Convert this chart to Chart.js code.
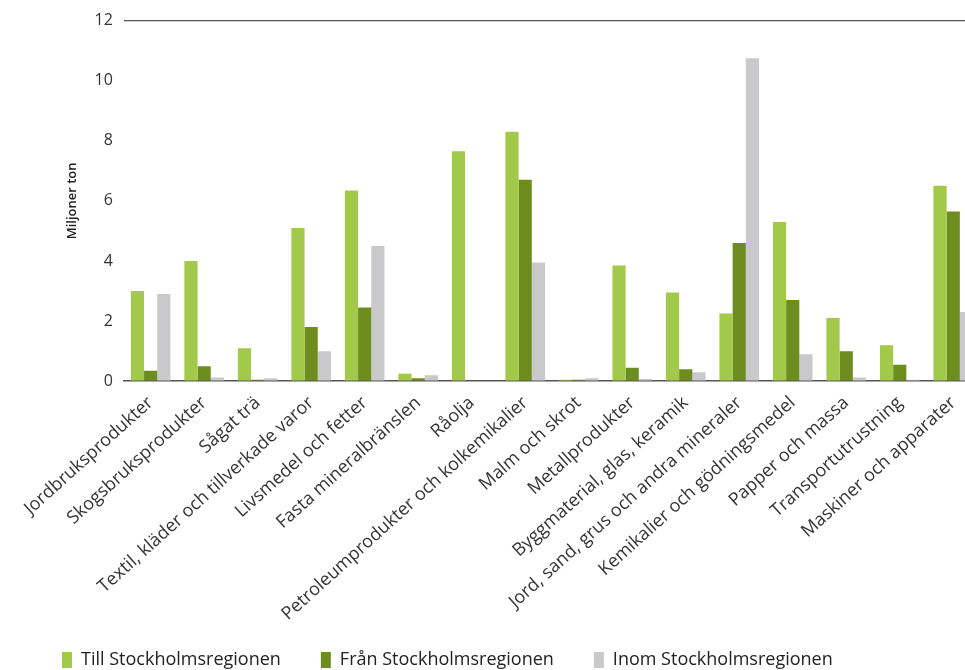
<!DOCTYPE html>
<html>
<head>
<meta charset="utf-8">
<script src="https://cdn.jsdelivr.net/npm/chart.js@4"></script>
<style>
    html, body { margin: 0; padding: 0; background: #fff; overflow: hidden; }
    #wrap { width: 980px; height: 670px; }
</style>
</head>
<body>
<div id="wrap"><canvas id="chart"></canvas></div>
<script>
const categories = [
    "Jordbruksprodukter", "Skogsbruksprodukter", "Sågat trä",
    "Textil, kläder och tillverkade varor", "Livsmedel och fetter",
    "Fasta mineralbränslen", "Råolja", "Petroleumprodukter och kolkemikalier",
    "Malm och skrot", "Metallprodukter", "Byggmaterial, glas, keramik",
    "Jord, sand, grus och andra mineraler", "Kemikalier och gödningsmedel",
    "Papper och massa", "Transportutrustning", "Maskiner och apparater"
];
const tillValues = [3.0, 4.0, 1.1, 5.1, 6.35, 0.25, 7.65, 8.3, 0.05, 3.85, 2.95, 2.25, 5.3, 2.1, 1.2, 6.5];
const franValues = [0.35, 0.5, 0.05, 1.8, 2.45, 0.1, 0, 6.7, 0.05, 0.45, 0.4, 4.6, 2.7, 1.0, 0.55, 5.65];
const inomValues = [2.9, 0.12, 0.1, 1.0, 4.5, 0.2, 0, 3.95, 0.1, 0.07, 0.3, 10.75, 0.9, 0.12, 0.05, 2.3];
const yTicks = [0, 2, 4, 6, 8, 10, 12];

const fontFamily = "'Open Sans', 'Noto Sans', sans-serif";

// move legend so it sits where the original does
const legendShift = {
    id: "legendShift",
    afterLayout(chart) {
        const lg = chart.legend;
        lg.left -= 38;
        lg.right -= 38;
        const dy = 611 - lg.top;
        lg.top += dy;
        lg.bottom += dy;
    }
};

const ctx = document.getElementById("chart").getContext("2d");
new Chart(ctx, {
    type: "bar",
    data: {
        labels: categories,
        datasets: [
            { label: "Till Stockholmsregionen", data: tillValues, backgroundColor: "#a2c94a" },
            { label: "Från Stockholmsregionen", data: franValues, backgroundColor: "#6d8e1f" },
            { label: "Inom Stockholmsregionen", data: inomValues, backgroundColor: "#c9c9cc" }
        ]
    },
    options: {
        responsive: true,
        maintainAspectRatio: false,
        animation: false,
        layout: { padding: { left: 60, top: 16, right: 0, bottom: -26 } },
        datasets: { bar: { categoryPercentage: 0.74, barPercentage: 1.0 } },
        scales: {
            x: {
                grid: { display: false },
                border: { display: true, color: "#555", width: 1.5 },
                ticks: {
                    color: "#333",
                    font: { family: fontFamily, size: 18 },
                    minRotation: 42,
                    maxRotation: 42,
                    autoSkip: false,
                    padding: 3
                }
            },
            y: {
                min: 0,
                max: 12,
                afterBuildTicks(axis) {
                    axis.ticks = yTicks.map(v => ({ value: v }));
                },
                grid: {
                    drawTicks: false,
                    color: c => (c.tick && c.tick.value === 12 ? "#555" : "rgba(0,0,0,0)"),
                    lineWidth: 1.2
                },
                border: { display: false },
                ticks: {
                    color: "#333",
                    font: { family: fontFamily, size: 16 },
                    padding: 11
                },
                title: {
                    display: true,
                    text: "Miljoner ton",
                    color: "#222",
                    font: { family: fontFamily, size: 13, weight: "600" },
                    padding: 4
                }
            }
        },
        plugins: {
            legend: {
                position: "bottom",
                align: "start",
                labels: {
                    color: "#222",
                    font: { family: fontFamily, size: 18 },
                    boxWidth: 10,
                    boxHeight: 16,
                    padding: 40
                }
            },
            tooltip: { enabled: false }
        }
    },
    plugins: [legendShift]
});
</script>
</body>
</html>
